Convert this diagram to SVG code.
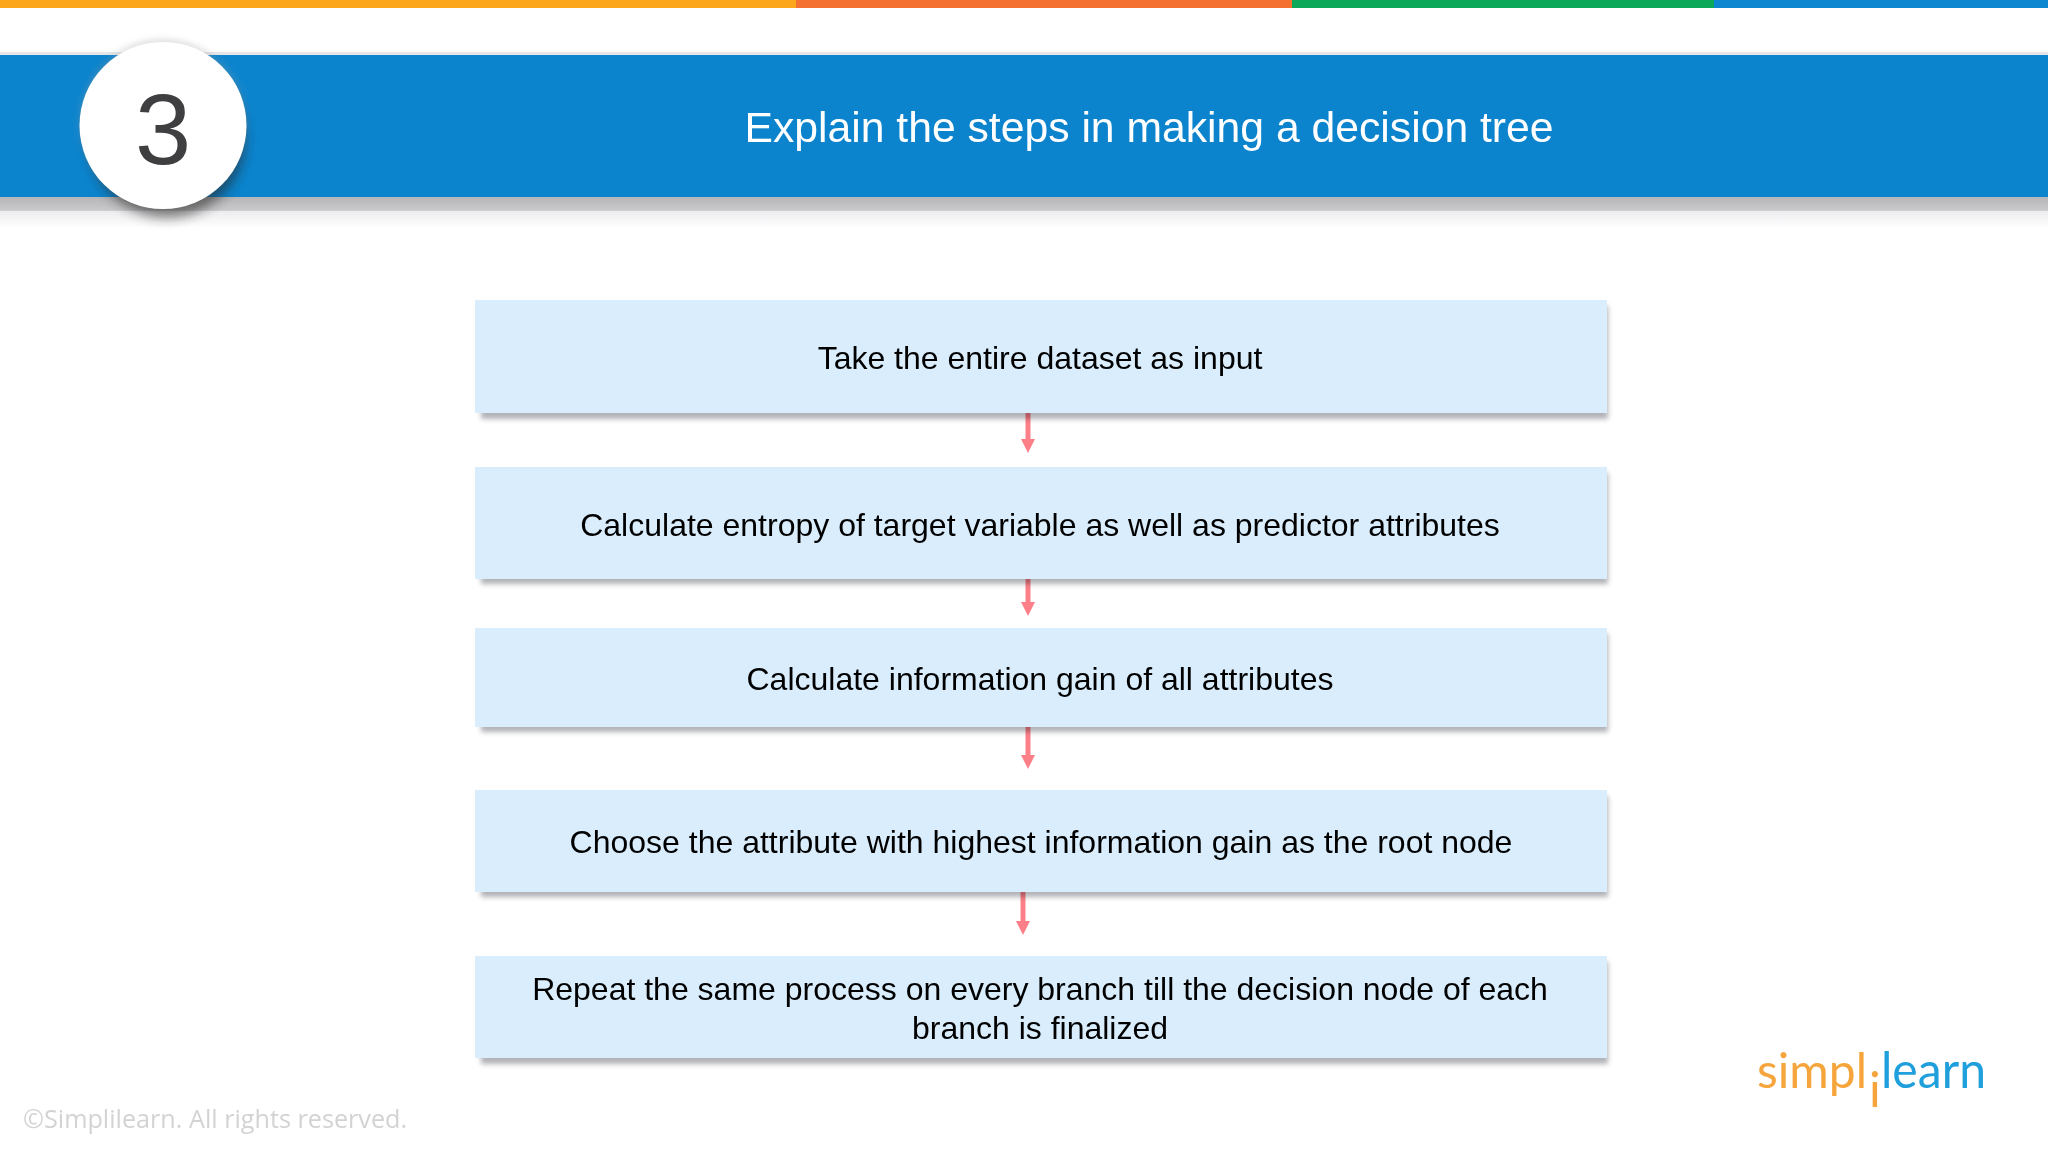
<svg xmlns="http://www.w3.org/2000/svg" width="2048" height="1152" viewBox="0 0 2048 1152">
<defs>
<style>
.box{fill:#d9edfc}
.sh{fill:#a9aaae}
.t{font-family:"Liberation Sans",Arial,sans-serif;font-size:32px;fill:#000;text-anchor:middle}
.c{stroke:#fd8089;stroke-width:5;fill:none;marker-end:url(#ah)}
</style>
<marker id="ah" markerUnits="userSpaceOnUse" markerWidth="16" markerHeight="16" refX="4" refY="7" orient="auto" viewBox="0 0 16 14"><path d="M0 0L14 7L0 14Z" fill="#fd8089"/></marker>
<filter id="blur" x="-30%" y="-30%" width="160%" height="160%"><feGaussianBlur stdDeviation="6"/></filter>
<filter id="halo" x="-30%" y="-30%" width="160%" height="160%"><feGaussianBlur stdDeviation="3"/></filter>
<filter id="b2" x="-5%" y="-50%" width="110%" height="200%"><feGaussianBlur stdDeviation="2.500"/></filter>
<linearGradient id="hs" x1="0" y1="0" x2="0" y2="1"><stop offset="0" stop-color="#b4b4b6"/><stop offset=".45" stop-color="#c9c9cb"/><stop offset=".47" stop-color="#ecebee"/><stop offset="1" stop-color="#ffffff"/></linearGradient>
</defs>
<rect width="2048" height="1152" fill="#fff"/>
<g id="stripe">
<rect x="0" y="0" width="796" height="8" fill="#fba61b"/>
<rect x="796" y="0" width="496" height="8" fill="#f47030"/>
<rect x="1292" y="0" width="422" height="8" fill="#0ba85a"/>
<rect x="1714" y="0" width="334" height="8" fill="#0d87cf"/>
</g>
<g id="header">
<rect x="0" y="52" width="2048" height="4" fill="#e6e6e8"/>
<rect x="0" y="196" width="2048" height="32" fill="url(#hs)"/>
<rect x="0" y="55" width="2048" height="142" fill="#0c84cd"/>
<text x="1149" y="142" font-family="'Liberation Sans',Arial,sans-serif" font-size="42.700" fill="#fff" text-anchor="middle">Explain the steps in making a decision tree</text>
</g>
<g id="badge">
<circle cx="163" cy="123" r="84" fill="#999" opacity=".3" filter="url(#halo)"/>
<circle cx="167" cy="140" r="78" fill="#222" opacity=".55" filter="url(#blur)"/>
<circle cx="163" cy="125.500" r="83.500" fill="#fff"/>
<text x="163" y="164" font-family="'Liberation Sans',Arial,sans-serif" font-size="101" fill="#3f3f41" text-anchor="middle">3</text>
</g>
<g id="node1">
<rect x="481" y="306" width="1127" height="113" class="sh" filter="url(#b2)" opacity=".9"/>
<rect x="475" y="300" width="1132" height="113" class="box"/>
<text class="t" x="1040" y="369">Take the entire dataset as input</text>
</g>
<g id="node2">
<rect x="481" y="473" width="1127" height="111" class="sh" filter="url(#b2)" opacity=".9"/>
<rect x="475" y="467" width="1132" height="112" class="box"/>
<text class="t" x="1040" y="536">Calculate entropy of target variable as well as predictor attributes</text>
</g>
<g id="node3">
<rect x="481" y="634" width="1127" height="98" class="sh" filter="url(#b2)" opacity=".9"/>
<rect x="475" y="628" width="1132" height="99" class="box"/>
<text class="t" x="1040" y="690">Calculate information gain of all attributes</text>
</g>
<g id="node4">
<rect x="481" y="796" width="1127" height="101" class="sh" filter="url(#b2)" opacity=".9"/>
<rect x="475" y="790" width="1132" height="102" class="box"/>
<text class="t" x="1041" y="853">Choose the attribute with highest information gain as the root node</text>
</g>
<g id="node5">
<rect x="481" y="962" width="1127" height="102" class="sh" filter="url(#b2)" opacity=".9"/>
<rect x="475" y="956" width="1132" height="102" class="box"/>
<text class="t" x="1040" y="1000">Repeat the same process on every branch till the decision node of each</text>
<text class="t" x="1040" y="1039">branch is finalized</text>
</g>
<g id="connectors" style="mix-blend-mode:multiply">
<path class="c" d="M1028 413V443"/>
<path class="c" d="M1028 579V606"/>
<path class="c" d="M1028 727V759"/>
<path class="c" d="M1023 892V925"/>
</g>
<g id="footer">
<text x="23" y="1128" font-family="'Open Sans',sans-serif" font-size="25.200" fill="#d3d3d5">©Simplilearn. All rights reserved.</text>
</g>
<g id="logo" font-family="Lato,sans-serif">
<text x="1757" y="1088" fill="#f6a53c" font-size="49" textLength="110" lengthAdjust="spacingAndGlyphs">simpl</text>
<text x="1869" y="1107" fill="#f6a53c" font-size="49">i</text>
<text x="1881" y="1088" fill="#1f9fdc" font-size="50" textLength="105" lengthAdjust="spacingAndGlyphs">learn</text>
</g>
</svg>
